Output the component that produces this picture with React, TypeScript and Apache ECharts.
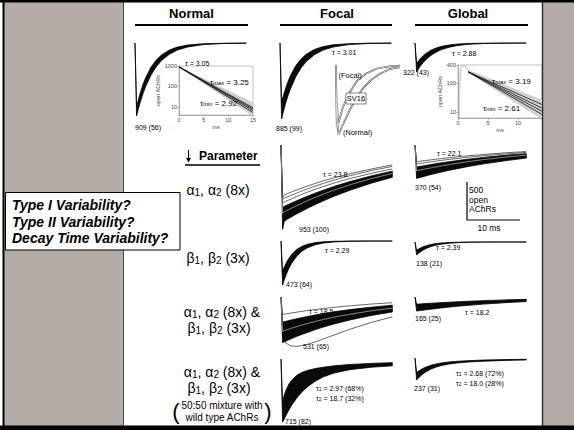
import React, { useEffect, useRef } from "react";
import * as echarts from "echarts";

const FF = "'Liberation Sans', Arial, Helvetica, sans-serif";

// ---------- data ----------
// time base of the current traces (ms)
const T = [0, 0.3, 0.6, 1, 1.5, 2, 3, 4, 5, 6.5, 8, 10, 13, 17, 21];

// open AChRs (negative = inward), deepest and shallowest trace of each bundle
const normalDeep = [0, -960, -876, -777, -667, -574, -423, -313, -231, -147, -93, -51, -20, -6, -2];
const normalShallow = [0, -840, -755, -654, -547, -458, -320, -224, -157, -92, -54, -26, -9, -3, -1];

const focal0Deep = [0, -1000, -913, -809, -695, -598, -441, -326, -241, -153, -97, -53, -21, -6, -2];
const focal0Shallow = [0, -780, -701, -608, -508, -425, -297, -208, -146, -85, -50, -24, -9, -2, -1];

const global0Deep = [0, -380, -346, -306, -261, -223, -163, -120, -87, -55, -34, -18, -7, -2, -1];
const global0Shallow = [0, -270, -241, -206, -170, -140, -96, -65, -44, -25, -14, -6, -2, -1, 0];

const focal1Deep = [0, -1110, -1010, -985, -965, -945, -905, -870, -833, -782, -735, -675, -596, -503, -425];
const focal1Shallow = [0, -820, -809, -796, -780, -763, -732, -702, -673, -632, -594, -545, -481, -407, -344];
const focal1TraceA = [0, -720, -700, -690, -675, -660, -632, -604, -577, -540, -505, -462, -404, -337, -282];
const focal1TraceB = [0, -700, -655, -645, -632, -618, -591, -565, -540, -505, -472, -432, -378, -316, -262];
const focal1TraceC = [0, -760, -750, -738, -723, -707, -677, -648, -620, -582, -546, -501, -442, -373, -315];
const focal1Inner = [0, -900, -880, -866, -849, -831, -797, -764, -733, -688, -646, -594, -524, -443, -374];

const global1Deep = [0, -440, -434, -426, -417, -407, -389, -372, -356, -332, -311, -284, -248, -207, -172];
const global1Shallow = [0, -290, -286, -281, -275, -269, -257, -245, -234, -219, -205, -187, -163, -136, -114];
const global1TraceA = [0, -220, -217, -213, -208, -204, -195, -186, -178, -166, -155, -142, -124, -103, -86];
const global1TraceB = [0, -250, -247, -242, -237, -232, -221, -212, -202, -189, -177, -161, -141, -118, -98];
const global1Inner = [0, -340, -335, -329, -322, -315, -301, -288, -275, -257, -240, -219, -191, -160, -133];

const focal2Deep = [0, -580, -514, -438, -359, -294, -197, -132, -89, -49, -27, -12, -3, -1, 0];
const focal2Shallow = [0, -400, -347, -287, -226, -178, -110, -69, -43, -21, -10, -4, -1, 0, 0];

const global2Deep = [0, -170, -151, -130, -107, -88, -60, -41, -28, -16, -9, -4, -1, 0, 0];
const global2Shallow = [0, -110, -96, -80, -64, -51, -32, -20, -13, -7, -3, -1, 0, 0, 0];

const focal3Deep = [0, -600, -590, -578, -562, -547, -518, -491, -466, -429, -395, -355, -302, -243, -196];
const focal3Shallow = [0, -330, -325, -318, -309, -301, -285, -270, -256, -236, -217, -195, -166, -134, -108];
const focal3TraceTop = [0, -230, -226, -221, -216, -210, -199, -188, -178, -164, -152, -136, -116, -93, -75];
const focal3TraceLow = [0, -520, -580, -610, -630, -645, -650, -640, -622, -590, -552, -500, -425, -335, -262];
const focal3Inner = [0, -450, -443, -434, -422, -410, -389, -368, -349, -322, -296, -266, -227, -182, -147];

const global3Deep = [0, -185, -182, -178, -173, -169, -160, -152, -144, -132, -122, -110, -93, -75, -60];
const global3Shallow = [0, -95, -93, -91, -89, -87, -82, -78, -74, -68, -63, -56, -48, -38, -31];

const focal4Deep = [0, -830, -790, -735, -670, -610, -510, -430, -365, -290, -235, -185, -140, -108, -90];
const focal4Shallow = [0, -560, -480, -400, -330, -280, -215, -175, -150, -125, -108, -90, -72, -58, -48];

const global4Deep = [0, -290, -267, -239, -209, -185, -146, -119, -99, -78, -65, -53, -42, -32, -26];
const global4Shallow = [0, -190, -175, -157, -137, -121, -96, -78, -65, -51, -43, -35, -27, -21, -17];

// Normal inset (log scale): fitted decays
const normInsetT = [0, 15];
const normFitMax = [909, 9.0];
const normFit2 = [909, 7.8];
const normFit3 = [909, 6.6];
const normFitMin = [909, 5.3];
const normGrayT = [0, 15];
const normGrayHi = [940, 16];
const normGrayLo = [880, 3.5];

// Global inset
const globInsetT = [1.7, 14];
const globFitMax = [234, 18.5];
const globFit2 = [234, 14];
const globFit3 = [234, 11];
const globFitMin = [234, 8.6];
const globGrayHiT = [0.15, 0.3, 0.5, 0.7, 1.3, 1.8, 14];
const globGrayHi = [6.5, 200, 370, 395, 385, 265, 26];
const globGrayLoT = [0.25, 0.3, 0.5, 0.8, 1.3, 1.8, 14];
const globGrayLo = [5, 40, 300, 370, 360, 215, 6];

// SV16 normalised traces
const ovFocalT = [0, 0.15, 0.5, 1.3, 2.5, 4, 5.5, 7.7, 10, 12];
const ovFocal = [0, -0.9, -0.82, -0.6, -0.4, -0.22, -0.13, -0.05, -0.02, -0.01];
const ovNormalT = [0.2, 0.45, 1, 2.6, 4, 5.1, 6.5, 8.3, 10, 12];
const ovNormal = [-0.55, -1.0, -0.9, -0.64, -0.45, -0.33, -0.22, -0.12, -0.06, -0.03];

// scale bar: 500 open AChRs, 10 ms
const scaleX = [0, 0, 10];
const scaleY = [0, -500, -500];

// ---------- layout helpers ----------
const K = 500 / 38; // AChR per px
const PXMS = 5.3; // px per ms
const PW = 113;

const sub = (s: string) =>
  s
    .split(/(_[0-9a-z]+)/)
    .filter(Boolean)
    .map((p) => (p.startsWith("_") ? `{s|${p.slice(1)}}` : `{n|${p}}`))
    .join("");

function label(text: string, x: number, y: number, size: number, o: any = {}) {
  const weight = o.weight || "normal";
  const fs = o.italic ? "italic" : "normal";
  const hasSub = text.includes("_");
  const ss = Math.max(5, Math.round(size * 0.72 * 10) / 10);
  const col = o.fill || "#000";
  const rich = hasSub
    ? {
        n: { fontSize: size, lineHeight: size * 1.1, fontFamily: FF, fontWeight: weight, fill: col, color: col },
        s: { fontSize: ss, lineHeight: ss * 0.75, verticalAlign: "bottom", fontFamily: FF, fontWeight: weight, fill: col, color: col },
      }
    : undefined;
  const style: any = {
    text: hasSub ? sub(text) : text,
    fontSize: size,
    fontFamily: FF,
    fontWeight: weight,
    fontStyle: fs,
    fill: col,
    stroke: "none",
    lineWidth: 0,
    textAlign: o.align || "left",
    align: o.align || "left",
    textVerticalAlign: "middle",
    verticalAlign: "middle",
  };
  if (rich) style.rich = rich;
  return { type: "text", x, y, z: 100, silent: true, style };
}

export default function App() {
  const ref = useRef<HTMLDivElement>(null);
  useEffect(() => {
    if (!ref.current) return;
    const chart = echarts.init(ref.current, undefined, { renderer: "svg" });

    const grids: any[] = [];
    const xAxes: any[] = [];
    const yAxes: any[] = [];
    const series: any[] = [];

    const addPanel = (left: number, base: number, H: number) => {
      const idx = grids.length;
      grids.push({ left, top: base - 3, width: PW, height: H + 3, outerBoundsMode: "none", containLabel: false });
      xAxes.push({ type: "value", gridIndex: idx, show: false, min: 0, max: PW / PXMS });
      yAxes.push({ type: "value", gridIndex: idx, show: false, min: -H * K, max: 3 * K });
      return idx;
    };

    const band = (idx: number, xs1: number[], ys1: number[], xs2: number[], ys2: number[], fill: string, stroke: string, lw: number, clip = false, z = 2) => {
      series.push({
        type: "custom",
        coordinateSystem: "cartesian2d",
        xAxisIndex: idx,
        yAxisIndex: idx,
        data: [[xs1[0], ys1[0] || 1]],
        silent: true,
        clip,
        z,
        renderItem: (_p: any, api: any) => {
          const pts: number[][] = [];
          for (let i = 0; i < xs1.length; i++) pts.push(api.coord([xs1[i], ys1[i]]));
          for (let i = xs2.length - 1; i >= 0; i--) pts.push(api.coord([xs2[i], ys2[i]]));
          return { type: "polygon", shape: { points: pts }, style: { fill, stroke, lineWidth: lw } };
        },
      });
    };

    const line = (idx: number, xs: number[], ys: number[], color = "#000", width = 0.7, z = 3, clip = false) => {
      series.push({
        type: "line",
        xAxisIndex: idx,
        yAxisIndex: idx,
        data: xs.map((x, i) => [x, ys[i]]),
        showSymbol: false,
        symbol: "none",
        silent: true,
        clip,
        z,
        lineStyle: { color, width },
      });
    };

    const bundle = (left: number, base: number, H: number, deep: number[], shallow: number[], extra: number[][] = [], inner: number[][] = []) => {
      const idx = addPanel(left, base, H);
      band(idx, T, shallow, T, deep, "#0a0a0a", "#000", 0.8);
      extra.forEach((e) => line(idx, T, e, "#000", 0.6));
      inner.forEach((e) => line(idx, T, e, "#fff", 0.5, 4));
    };

    // trace panels
    bundle(135, 43, 80, normalDeep, normalShallow);
    bundle(280, 43, 80, focal0Deep, focal0Shallow);
    bundle(415, 43, 35, global0Deep, global0Shallow);
    bundle(281, 145, 90, focal1Deep, focal1Shallow, [focal1TraceA, focal1TraceB, focal1TraceC], [focal1Inner]);
    bundle(415, 145, 40, global1Deep, global1Shallow, [global1TraceA, global1TraceB], [global1Inner]);
    bundle(281, 241, 48, focal2Deep, focal2Shallow);
    bundle(415, 242, 16, global2Deep, global2Shallow);
    bundle(281, 297, 55, focal3Deep, focal3Shallow, [focal3TraceTop, focal3TraceLow], [focal3Inner]);
    bundle(415, 297, 20, global3Deep, global3Shallow);
    bundle(281, 359, 66, focal4Deep, focal4Shallow);
    bundle(415, 358, 26, global4Deep, global4Shallow);

    // insets
    const insetAxisLabel = { fontSize: 5.5, color: "#444", fontFamily: FF, margin: 2 };
    const insetAxisLine = { show: true, lineStyle: { color: "#888", width: 0.6 } };
    const insetTick = { show: true, length: 2, lineStyle: { color: "#888", width: 0.5 } };
    const addInset = (left: number, top: number, w: number, h: number, xmax: number, ymin: number, ymax: number, nameGapY: number) => {
      const idx = grids.length;
      grids.push({ left, top, width: w, height: h, show: true, borderColor: "#999", borderWidth: 0.6, backgroundColor: "#fff", outerBoundsMode: "none", containLabel: false });
      xAxes.push({
        type: "value", gridIndex: idx, min: 0, max: xmax, interval: 5,
        axisLabel: { ...insetAxisLabel, showMaxLabel: xmax % 5 === 0 },
        axisLine: insetAxisLine, axisTick: insetTick, splitLine: { show: false },
        name: "ms", nameLocation: "middle", nameGap: 8, nameTextStyle: { fontSize: 5.5, color: "#444", fontFamily: FF },
      });
      yAxes.push({
        type: "log", logBase: 10, gridIndex: idx, min: ymin, max: ymax,
        axisLabel: { ...insetAxisLabel, showMinLabel: false, formatter: (v: number) => String(Math.round(v)) },
        axisLine: insetAxisLine, axisTick: insetTick, splitLine: { show: false },
        name: "open AChRs", nameLocation: "middle", nameGap: nameGapY, nameRotate: 90,
        nameTextStyle: { fontSize: 5.5, color: "#444", fontFamily: FF },
      });
      return idx;
    };

    const ni = addInset(179, 66, 74, 49, 15, 4, 1000, 13);
    band(ni, normGrayT, normGrayHi, normGrayT, normGrayLo, "#cfcfcf", "#c4c4c4", 0.3, true, 2);
    [normFitMax, normFit2, normFit3, normFitMin].forEach((f) => line(ni, normInsetT, f, "#111", 0.8, 4, true));

    const gi = addInset(458, 65, 84, 53, 14, 6.5, 400, 11);
    band(gi, globGrayHiT, globGrayHi, globGrayLoT, globGrayLo, "#d2d2d2", "#bdbdbd", 0.4, true, 2);
    [globFitMax, globFit2, globFit3, globFitMin].forEach((f) => line(gi, globInsetT, f, "#111", 0.8, 4, true));

    // SV16 normalised overlay
    const oi = grids.length;
    grids.push({ left: 336, top: 65, width: 64, height: 70, outerBoundsMode: "none", containLabel: false });
    xAxes.push({ type: "value", gridIndex: oi, show: false, min: 0, max: 12 });
    yAxes.push({ type: "value", gridIndex: oi, show: false, min: -1, max: 0 });
    line(oi, ovFocalT, ovFocal, "#333", 1.7, 3);
    line(oi, ovFocalT, ovFocal, "#fff", 0.8, 4);
    line(oi, ovNormalT, ovNormal, "#333", 1.7, 3);
    line(oi, ovNormalT, ovNormal, "#fff", 0.8, 4);

    // scale bar
    const si = grids.length;
    grids.push({ left: 467, top: 182, width: 53, height: 38, outerBoundsMode: "none", containLabel: false });
    xAxes.push({ type: "value", gridIndex: si, show: false, min: 0, max: 10 });
    yAxes.push({ type: "value", gridIndex: si, show: false, min: -500, max: 0 });
    line(si, scaleX, scaleY, "#000", 1.2, 3);

    // ---------- graphic ----------
    const gray = "#b3aba6";
    const graphics: any[] = [
      { type: "rect", z: 0, silent: true, shape: { x: 4, y: 0, width: 119.5, height: 430 }, style: { fill: gray } },
      { type: "line", z: 1, silent: true, shape: { x1: 123.5, y1: 0, x2: 123.5, y2: 430 }, style: { stroke: "#4a4a4a", lineWidth: 1 } },
      { type: "rect", z: 1, silent: true, shape: { x: 2.5, y: 0, width: 2, height: 430 }, style: { fill: "#000" } },
      { type: "rect", z: 0, silent: true, shape: { x: 542, y: 0, width: 32, height: 430 }, style: { fill: gray } },
      { type: "line", z: 1, silent: true, shape: { x1: 542.5, y1: 0, x2: 542.5, y2: 430 }, style: { stroke: "#333", lineWidth: 1.5 } },
      { type: "rect", z: 1, silent: true, shape: { x: 0, y: 0, width: 574, height: 2.5 }, style: { fill: "#000" } },
      { type: "rect", z: 1, silent: true, shape: { x: 0, y: 425.5, width: 574, height: 4.5 }, style: { fill: "#000" } },
      // header underlines
      { type: "line", z: 5, silent: true, shape: { x1: 135, y1: 25, x2: 248, y2: 25 }, style: { stroke: "#000", lineWidth: 2 } },
      { type: "line", z: 5, silent: true, shape: { x1: 280, y1: 25, x2: 392, y2: 25 }, style: { stroke: "#000", lineWidth: 2 } },
      { type: "line", z: 5, silent: true, shape: { x1: 415, y1: 25, x2: 528, y2: 25 }, style: { stroke: "#000", lineWidth: 2 } },
      { type: "line", z: 5, silent: true, shape: { x1: 185, y1: 165, x2: 260, y2: 165 }, style: { stroke: "#000", lineWidth: 1.5 } },
      // down arrow of "Parameter"
      { type: "line", z: 5, silent: true, shape: { x1: 188.5, y1: 150, x2: 188.5, y2: 161 }, style: { stroke: "#000", lineWidth: 1 } },
      { type: "polygon", z: 5, silent: true, shape: { points: [[186, 158], [191, 158], [188.5, 162.5]] }, style: { fill: "#000" } },
      // type variability box
      { type: "rect", z: 20, silent: true, shape: { x: 5.5, y: 192.5, width: 174.5, height: 57.5 }, style: { fill: "#fff", stroke: "#000", lineWidth: 1 } },
      // SV16 box
      { type: "rect", z: 60, silent: true, shape: { x: 346, y: 93, width: 20, height: 11 }, style: { fill: "#fff", stroke: "#333", lineWidth: 0.6 } },
    ];

    const texts: any[] = [
      label("Normal", 191.5, 13.5, 13, { weight: "bold", align: "center" }),
      label("Focal", 337, 13.5, 13, { weight: "bold", align: "center" }),
      label("Global", 468, 13.5, 13, { weight: "bold", align: "center" }),
      label("Parameter", 199, 156, 12, { weight: "bold" }),
      label("Type I Variability?", 12, 205, 14, { weight: "bold", italic: true }),
      label("Type II Variability?", 12, 222, 14, { weight: "bold", italic: true }),
      label("Decay Time Variability?", 12, 238, 14, { weight: "bold", italic: true }),
      label("α_1, α_2 (8x)", 218, 190, 14, { align: "center" }),
      label("β_1, β_2 (3x)", 218, 258, 14, { align: "center" }),
      label("α_1, α_2 (8x) &", 222, 312, 14, { align: "center" }),
      label("β_1, β_2 (3x)", 219, 328, 14, { align: "center" }),
      label("α_1, α_2 (8x) &", 222, 372, 14, { align: "center" }),
      label("β_1, β_2 (3x)", 219, 388, 14, { align: "center" }),
      label("50:50 mixture with", 222, 405, 10, { align: "center" }),
      label("wild type AChRs", 222, 417, 10, { align: "center" }),
      label("(", 176, 411, 22, { align: "center" }),
      label(")", 268, 411, 22, { align: "center" }),
      // panel annotations
      label("909 (56)", 135, 127, 7),
      label("τ = 3.05", 185, 63, 7),
      label("885 (99)", 276, 128, 7),
      label("τ = 3.01", 332, 52, 7),
      label("322 (43)", 403, 72, 7),
      label("τ = 2.88", 452, 53, 7),
      label("τ = 23.8", 323, 174, 7),
      label("953 (100)", 299, 229, 7),
      label("τ = 22.1", 437, 153, 7),
      label("370 (54)", 415, 187, 7),
      label("τ = 2.29", 325, 250, 7),
      label("473 (64)", 286, 284, 7),
      label("τ = 2.39", 436, 247, 7),
      label("138 (21)", 416, 263, 7),
      label("τ = 18.5", 309, 311, 7),
      label("531 (65)", 303, 346, 7),
      label("τ = 18.2", 465, 312, 7),
      label("165 (25)", 415, 318, 7),
      label("τ_1 = 2.97 (68%)", 316, 388, 7),
      label("τ_2 = 18.7 (32%)", 316, 398, 7),
      label("715 (82)", 285, 421, 7),
      label("τ_1 = 2.68 (72%)", 456, 373, 7),
      label("τ_2 = 18.0 (28%)", 456, 383, 7),
      label("237 (31)", 414, 388, 7),
      // insets
      label("τ_max = 3.25", 210, 82, 8),
      label("τ_min = 2.92", 200, 103, 8),
      label("τ_max = 3.19", 492, 81, 8),
      label("τ_min = 2.61", 483, 108, 8),
      // overlay
      label("(Focal)", 338.5, 75, 7.5),
      label("SV16", 356, 98.5, 7.5, { align: "center" }),
      label("(Normal)", 343, 132, 7.5),
      // scale bar
      label("500", 469, 190, 8.5),
      label("open", 469, 199.5, 8.5),
      label("AChRs", 469, 209, 8.5),
      label("10 ms", 489, 227.5, 8.5, { align: "center" }),
    ];

    chart.setOption({
      animation: false,
      backgroundColor: "#fff",
      textStyle: { fontFamily: FF },
      grid: grids,
      xAxis: xAxes,
      yAxis: yAxes,
      series,
      graphic: { elements: [...graphics, ...texts] },
    });

    return () => chart.dispose();
  }, []);

  return (
    <div
      ref={ref}
      style={{ position: "fixed", left: 0, top: 0, width: 574, height: 430, background: "#fff" }}
    />
  );
}
